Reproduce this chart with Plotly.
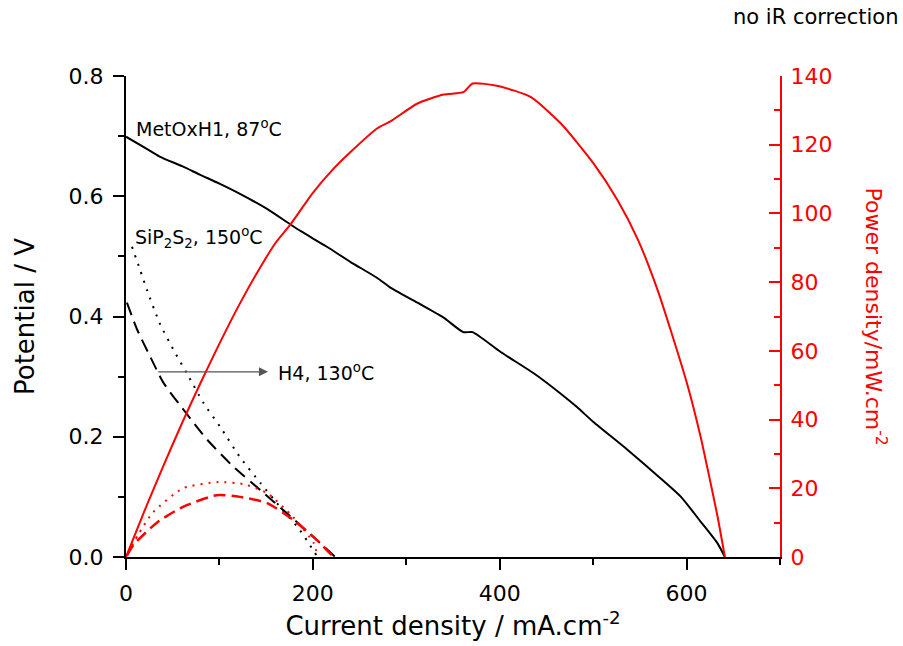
import plotly.graph_objects as go

# ---------------- data ----------------
# MetOxH1, 87 C : potential
met_i = [0, 20, 36, 60, 79, 100, 122, 151, 176, 188, 215, 240, 269, 283, 312, 340, 361, 371, 401, 436, 465, 483, 500, 537, 572, 594, 615, 633, 641]
met_v = [0.699, 0.681, 0.666, 0.650, 0.636, 0.621, 0.604, 0.579, 0.553, 0.541, 0.516, 0.491, 0.464, 0.448, 0.423, 0.398, 0.374, 0.374, 0.341, 0.306, 0.272, 0.249, 0.225, 0.178, 0.131, 0.100, 0.059, 0.023, 0.0]
# MetOxH1, 87 C : power density
met_pi = [0, 20, 40, 60, 80, 100, 120, 140, 160, 176, 200, 220, 240, 269, 283, 312, 340, 361, 371, 398, 433, 465, 500, 526, 548, 569, 583, 601, 615, 623, 633, 641]
met_p = [0, 13.6, 26.5, 39.0, 50.8, 62.1, 72.8, 82.6, 91.4, 96.8, 106.0, 112.4, 117.8, 124.8, 126.8, 132.0, 134.6, 135.3, 137.8, 137.1, 133.9, 126.3, 114.7, 103.9, 92.3, 77.7, 66.0, 50.0, 35.0, 25.0, 12.0, 0.0]

# SiP2S2, 150 C
sip_i = [6.4, 15, 22.5, 36, 51, 65, 83, 101, 122, 144, 165, 186, 205]
sip_v = [0.516, 0.478, 0.444, 0.389, 0.344, 0.306, 0.256, 0.216, 0.166, 0.123, 0.083, 0.045, 0.0]
sip_pi = [6.4, 13, 29, 61, 99, 126, 151, 179, 201, 205]
sip_p = [3.3, 6.5, 13.0, 20.0, 21.8, 21.2, 18.6, 11.6, 4.0, 0.0]

# H4, 130 C
h4_i = [1, 12, 26, 40, 65, 87, 115, 144, 172, 201, 224]
h4_v = [0.423, 0.378, 0.333, 0.29, 0.238, 0.195, 0.15, 0.111, 0.073, 0.033, 0.0]
h4_pi = [1, 8, 33, 61, 97, 122, 151, 179, 204, 222]
h4_p = [0.4, 3.5, 10.0, 14.6, 18.0, 17.5, 15.7, 10.8, 5.0, 0.0]

x_ticks = [0, 200, 400, 600]
y_ticks = [0.0, 0.2, 0.4, 0.6, 0.8]
y2_ticks = [0, 20, 40, 60, 80, 100, 120, 140]

FONT = "DejaVu Sans, Arial, sans-serif"
RED = "#ff0000"
SM = 0.6

fig = go.Figure()
fig.add_trace(go.Scatter(x=met_i, y=met_v, mode="lines", line=dict(color="black", width=2, shape="spline", smoothing=SM), showlegend=False))
fig.add_trace(go.Scatter(x=sip_i, y=sip_v, mode="lines", line=dict(color="black", width=2, dash="2px,7px", shape="spline", smoothing=SM), showlegend=False))
fig.add_trace(go.Scatter(x=h4_i, y=h4_v, mode="lines", line=dict(color="black", width=2, dash="13px,7px", shape="spline", smoothing=SM), showlegend=False))
fig.add_trace(go.Scatter(x=met_pi, y=met_p, mode="lines", yaxis="y2", line=dict(color=RED, width=2, shape="spline", smoothing=SM), showlegend=False))
fig.add_trace(go.Scatter(x=sip_pi, y=sip_p, mode="lines", yaxis="y2", line=dict(color=RED, width=2, dash="2px,6px", shape="spline", smoothing=SM), showlegend=False))
fig.add_trace(go.Scatter(x=h4_pi, y=h4_p, mode="lines", yaxis="y2", line=dict(color=RED, width=2.5, dash="12px,6px", shape="spline", smoothing=SM), showlegend=False))

axis_common = dict(showgrid=False, zeroline=False, ticks="outside", ticklen=11, tickwidth=2,
                   showline=True, linewidth=2, automargin=False)

fig.update_layout(
    width=903, height=646,
    margin=dict(l=126, r=123, t=76, b=89),
    paper_bgcolor="white", plot_bgcolor="white",
    font=dict(family=FONT, size=22, color="black"),
    xaxis=dict(range=[0, 700], tickvals=x_ticks, linecolor="black", tickcolor="black",
               ticklabelstandoff=5,
               minor=dict(dtick=100, ticks="outside", ticklen=6, tickwidth=2, tickcolor="black"),
               title=dict(text="Current density / mA.cm<sup>-2</sup>", standoff=11),
               **axis_common),
    yaxis=dict(range=[0, 0.8], tickvals=y_ticks, tickformat=".1f", linecolor="black", tickcolor="black",
               ticklabelstandoff=5,
               minor=dict(dtick=0.1, ticks="outside", ticklen=6, tickwidth=2, tickcolor="black"),
               title=dict(text="Potential / V", standoff=26),
               **axis_common),
    yaxis2=dict(range=[0, 140], tickvals=y2_ticks, overlaying="y", side="right", anchor="x",
                showgrid=False, zeroline=False, showline=True, linewidth=2, linecolor=RED,
                ticks="inside", ticklen=11, tickwidth=2, tickcolor=RED, automargin=False,
                minor=dict(dtick=10, ticks="inside", ticklen=6, tickwidth=2, tickcolor=RED),
                tickfont=dict(color=RED, size=22), ticklabelstandoff=4),
    annotations=[
        dict(text="no iR correction", xref="paper", yref="paper", x=1.0, y=1.0, xshift=120, yshift=59,
             xanchor="right", yanchor="middle", showarrow=False, font=dict(size=21)),
        dict(text="Power density/mW.cm<sup>-2</sup>", xref="paper", yref="paper", x=1.0, y=0.5,
             xshift=96, textangle=90, showarrow=False, font=dict(size=22, color=RED),
             xanchor="center", yanchor="middle"),
        dict(text="MetOxH1, 87<sup>o</sup>C", x=9, y=0.714, xanchor="left", yanchor="middle",
             showarrow=False, font=dict(size=19)),
        dict(text="SiP<sub>2</sub>S<sub>2</sub>, 150<sup>o</sup>C", x=7, y=0.532, xanchor="left", yanchor="middle",
             showarrow=False, font=dict(size=19)),
        dict(text="H4, 130<sup>o</sup>C", x=161, y=0.308, xanchor="left", yanchor="middle",
             showarrow=False, font=dict(size=19)),
        dict(text="", x=152, y=0.308, ax=33, ay=0.308, axref="x", ayref="y",
             showarrow=True, arrowhead=2, arrowsize=1.4, arrowwidth=1.3, arrowcolor="#555555"),
    ],
)

# remove the default 8px page margin so the 903x646 figure fills the window exactly
fig.write_html("out.html", config={"displayModeBar": False},
               post_script="document.body.style.margin='0';document.body.style.overflow='hidden';")
